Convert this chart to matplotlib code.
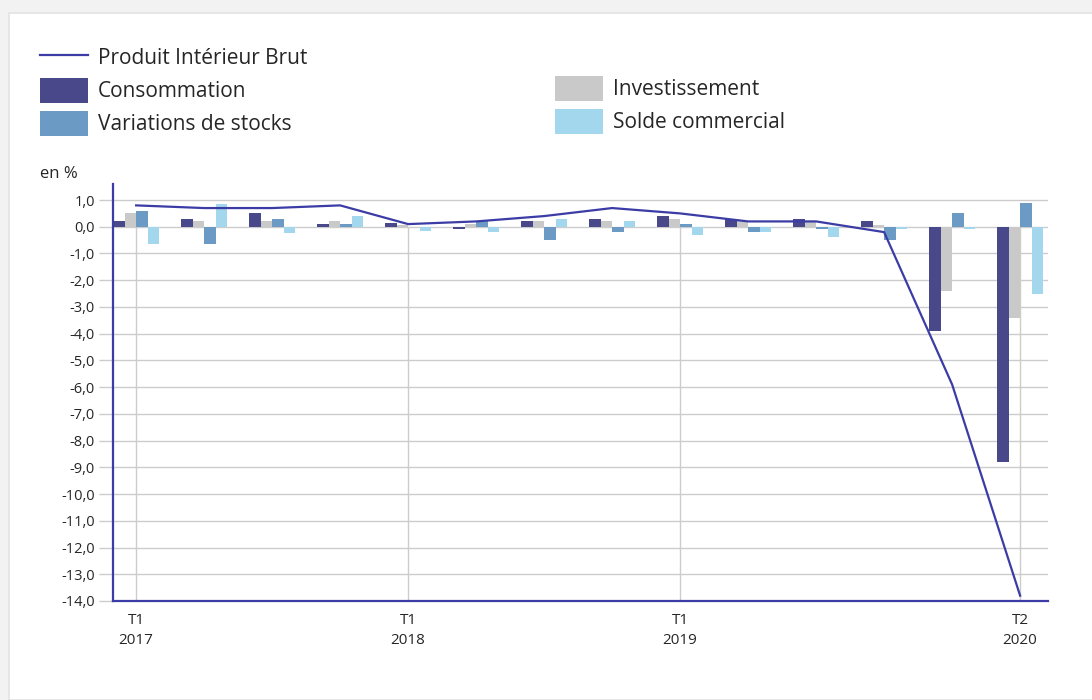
import numpy as np
import matplotlib.pyplot as plt
from matplotlib.patches import Rectangle, Patch
from matplotlib.lines import Line2D

plt.rcParams['font.family'] = ['Open Sans', 'DejaVu Sans']

# Contributions a la croissance du PIB, en %
quarters = ["T1 2017", "T2 2017", "T3 2017", "T4 2017",
            "T1 2018", "T2 2018", "T3 2018", "T4 2018",
            "T1 2019", "T2 2019", "T3 2019", "T4 2019",
            "T1 2020", "T2 2020"]
pib = [0.8, 0.7, 0.7, 0.8, 0.1, 0.2, 0.4, 0.7, 0.5, 0.2, 0.2, -0.2, -5.9, -13.8]
consommation = [0.2, 0.3, 0.5, 0.1, 0.15, -0.1, 0.2, 0.3, 0.4, 0.3, 0.3, 0.2, -3.9, -8.8]
investissement = [0.5, 0.2, 0.2, 0.2, 0.05, 0.1, 0.2, 0.2, 0.3, 0.2, 0.2, 0.05, -2.4, -3.4]
stocks = [0.6, -0.65, 0.3, 0.1, 0.0, 0.2, -0.5, -0.2, 0.1, -0.2, -0.1, -0.5, 0.5, 0.9]
solde = [-0.65, 0.85, -0.25, 0.4, -0.15, -0.2, 0.3, 0.2, -0.3, -0.2, -0.4, -0.07, -0.07, -2.5]

tick_idx = [0, 4, 8, 13]
tick_labels = ["T1\n2017", "T1\n2018", "T1\n2019", "T2\n2020"]

c_cons = "#48488a"
c_inv = "#c9c9c9"
c_stk = "#6b9bc4"
c_sol = "#a2d7ee"
c_line = "#3c3ca6"
c_grid = "#cccccc"
c_text = "#262626"

fig = plt.figure(figsize=(10.92, 7.0), dpi=100)
fig.patch.set_facecolor("#f2f2f2")
fig.patches.append(Rectangle((9 / 1092, 0), 1, (700 - 13) / 700, transform=fig.transFigure,
                             facecolor="white", edgecolor="#e3e3e3", lw=1.2, zorder=-5))

ax = fig.add_axes([113 / 1092, 99 / 700, (1048 - 113) / 1092, (601 - 184) / 700])
ax.set_zorder(2)
ax.set_facecolor("none")

x = np.arange(len(quarters))
w = 0.17
series = [(consommation, c_cons), (investissement, c_inv), (stocks, c_stk), (solde, c_sol)]
for k, (vals, col) in enumerate(series):
    ax.bar(x + (k - 1.5) * w, vals, width=w, color=col, zorder=2)

ax.plot(x, pib, color=c_line, lw=1.6, zorder=3)

yt = np.arange(-14, 2)
ax.set_yticks(yt)
ax.set_yticklabels([f"{v:.1f}".replace(".", ",") for v in yt])
ax.set_ylim(-14, 1.6)
ax.set_xlim(-0.34, 13.41)
ax.grid(axis="y", color=c_grid, lw=1, zorder=0)
ax.vlines(tick_idx, -14, 0, color=c_grid, lw=1, zorder=1)

ax.set_xticks(tick_idx)
ax.set_xticklabels(tick_labels, linespacing=1.45)
ax.tick_params(axis="x", length=0, pad=9, labelsize=11, labelcolor=c_text)
ax.tick_params(axis="y", length=10, width=1, color=c_grid, pad=3, labelsize=10.5, labelcolor=c_text)

for s in ["top", "right"]:
    ax.spines[s].set_visible(False)
for s in ["left", "bottom"]:
    ax.spines[s].set_color(c_line)
    ax.spines[s].set_linewidth(1.6)

fig.text(40 / 1092, 1 - 178 / 700, "en %", fontsize=12, color=c_text, ha="left", va="baseline")

h1 = [Line2D([], [], color=c_line, lw=1.6),
      Patch(facecolor=c_cons), Patch(facecolor=c_stk)]
l1 = ["Produit Intérieur Brut", "Consommation", "Variations de stocks"]
h2 = [Patch(facecolor=c_inv), Patch(facecolor=c_sol)]
l2 = ["Investissement", "Solde commercial"]
kw = dict(frameon=False, fontsize=15, handlelength=2.3, handleheight=1.45,
          handletextpad=0.48, labelspacing=0.4, borderpad=0, borderaxespad=0,
          labelcolor=c_text, loc="upper left")
fig.legend(h1, l1, bbox_to_anchor=(40 / 1092, 1 - 45 / 700), **kw)
fig.legend(h2, l2, bbox_to_anchor=(555 / 1092, 1 - 76 / 700), **kw)

fig.savefig("out.png", dpi=100, facecolor=fig.get_facecolor())
